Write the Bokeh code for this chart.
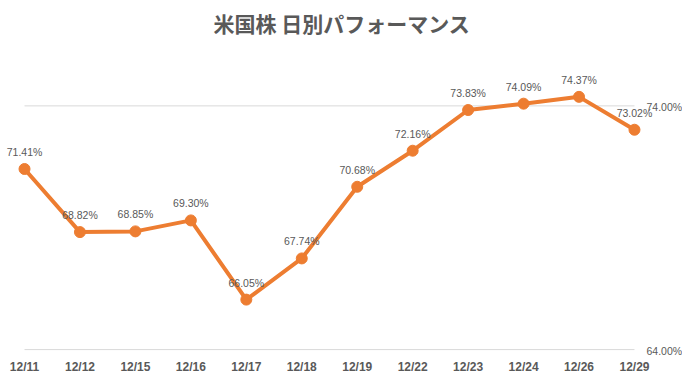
from bokeh.plotting import figure
from bokeh.models import Range1d, FixedTicker, ColumnDataSource, LabelSet
from bokeh.core.properties import value
from bokeh.embed import file_html
from bokeh.resources import INLINE

dates = ["12/11", "12/12", "12/15", "12/16", "12/17", "12/18",
         "12/19", "12/22", "12/23", "12/24", "12/26", "12/29"]
values = [71.41, 68.82, 68.85, 69.30, 66.05, 67.74,
          70.68, 72.16, 73.83, 74.09, 74.37, 73.02]
y_ticks = [64.0, 74.0]
y_tick_labels = ["64.00%", "74.00%"]

ORANGE = "#ED7D31"
GREY = "#595959"

idx = list(range(len(dates)))
src = ColumnDataSource(dict(x=idx, y=values, lab=[f"{v:.2f}%" for v in values]))
last = len(dates) - 1
tick_src = ColumnDataSource(dict(x=[last] * len(y_ticks), y=y_ticks, lab=y_tick_labels))

p = figure(width=682, height=376, output_backend="svg", toolbar_location=None,
           x_range=Range1d(-0.361, 11.866), y_range=Range1d(63.675, 76.60),
           y_axis_location=None,
           min_border_left=4, min_border_right=0, min_border_top=40, min_border_bottom=18)

p.title.text = "米国株 日別パフォーマンス"
p.title.align = "left"
p.title.offset = 209
p.title.text_font = "Noto Sans CJK JP"
p.title.text_font_size = "21px"
p.title.text_font_style = "bold"
p.title.text_color = GREY

p.outline_line_color = None
p.xgrid.visible = False
p.ygrid.visible = False

# horizontal gridlines at the value-axis ticks
p.segment(x0=0, x1=last, y0=y_ticks, y1=y_ticks, line_color="#D9D9D9", line_width=1)

# value-axis tick labels (right side)
p.add_layout(LabelSet(x="x", y="y", text="lab", source=tick_src, x_offset=12, y_offset=-1,
                      text_align="left", text_baseline="middle",
                      text_font=value("Liberation Sans"), text_font_size="10.5px",
                      text_color=GREY))

p.line("x", "y", source=src, line_color=ORANGE, line_width=4)
p.scatter("x", "y", source=src, size=11, fill_color=ORANGE, line_color=ORANGE)
p.add_layout(LabelSet(x="x", y="y", text="lab", source=src, y_offset=17, text_align="center",
                      text_baseline="middle", text_font=value("Liberation Sans"),
                      text_font_size="10.5px", text_color=GREY))

xa = p.xaxis[0]
xa.ticker = FixedTicker(ticks=idx)
xa.major_label_overrides = {i: d for i, d in zip(idx, dates)}
xa.axis_line_color = None
xa.major_tick_line_color = None
xa.minor_tick_line_color = None
xa.major_tick_out = 0
xa.major_tick_in = 0
xa.minor_tick_out = 0
xa.major_label_text_font = "Liberation Sans"
xa.major_label_text_font_size = "12px"
xa.major_label_text_font_style = "bold"
xa.major_label_text_color = GREY
xa.major_label_standoff = 2

open("out.html", "w").write(file_html(p, INLINE))
